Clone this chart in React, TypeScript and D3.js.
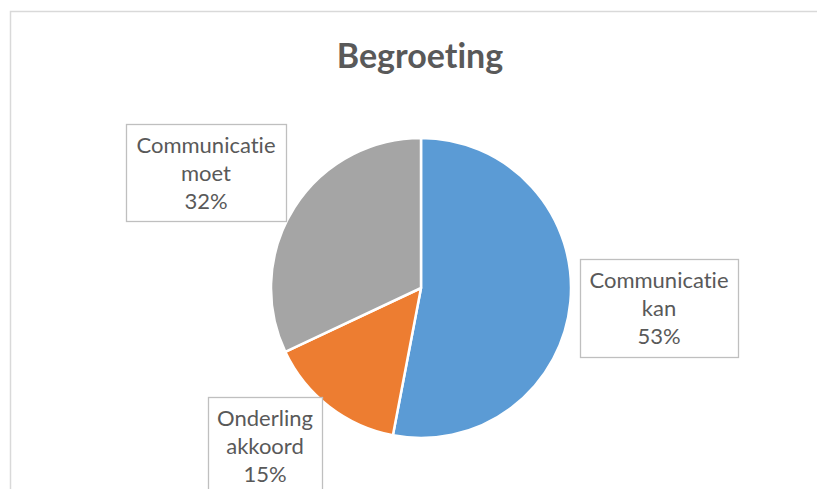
import React, { useRef, useEffect } from 'react';
import * as d3 from 'd3';

const categories = ['Communicatie kan', 'Onderling akkoord', 'Communicatie moet'];
const values = [53, 15, 32];
const labelLines = [
    ['Communicatie', 'kan', '53%'],
    ['Onderling', 'akkoord', '15%'],
    ['Communicatie', 'moet', '32%'],
];
const colors = ['#5B9BD5', '#ED7D31', '#A5A5A5'];

// label box positions (top-left, size) as placed in the original
const boxes = [
    { x: 580, y: 259, w: 158, h: 98 },
    { x: 208, y: 397, w: 114, h: 98 },
    { x: 126, y: 124, w: 160, h: 97 },
];

const W = 817;
const H = 489;
const FONT = 'Lato, "Open Sans", sans-serif';

const App: React.FC = () => {
    const ref = useRef<SVGSVGElement>(null);

    useEffect(() => {
        if (!ref.current) return;
        const svg = d3.select(ref.current);
        svg.selectAll('*').remove();

        svg.append('rect')
            .attr('width', W).attr('height', H)
            .attr('fill', '#ffffff');

        // chart area border
        svg.append('rect')
            .attr('x', 10.5).attr('y', 11.5)
            .attr('width', 900).attr('height', 600)
            .attr('fill', 'none')
            .attr('stroke', '#D9D9D9')
            .attr('stroke-width', 1.5);

        svg.append('text')
            .attr('x', 420).attr('y', 68)
            .attr('text-anchor', 'middle')
            .attr('fill', '#595959')
            .style('font-family', FONT)
            .style('font-size', '34px')
            .style('font-weight', 'bold')
            .style('font-variant-ligatures', 'none')
            .text('Begroeting');

        const radius = 150;
        const pie = d3.pie<number>().value(d => d).sort(null);
        const arc = d3.arc<d3.PieArcDatum<number>>().innerRadius(0).outerRadius(radius);

        const g = svg.append('g').attr('transform', 'translate(421, 288)');
        g.selectAll('path')
            .data(pie(values))
            .join('path')
            .attr('d', arc)
            .attr('fill', (_, i) => colors[i])
            .attr('stroke', '#ffffff')
            .attr('stroke-width', 2.5)
            .attr('stroke-linejoin', 'round');

        // data labels
        const lg = svg.selectAll('g.lbl')
            .data(categories)
            .join('g')
            .attr('class', 'lbl');

        lg.append('rect')
            .attr('x', (_, i) => boxes[i].x + 0.5)
            .attr('y', (_, i) => boxes[i].y + 0.5)
            .attr('width', (_, i) => boxes[i].w)
            .attr('height', (_, i) => boxes[i].h)
            .attr('fill', '#ffffff')
            .attr('stroke', '#BFBFBF')
            .attr('stroke-width', 1.3);

        lg.each(function (_, i) {
            const b = boxes[i];
            d3.select(this).selectAll('text')
                .data(labelLines[i])
                .join('text')
                .attr('x', b.x + b.w / 2)
                .attr('y', (_, j) => b.y + 29 + j * 28)
                .attr('text-anchor', 'middle')
                .attr('fill', '#595959')
                .style('font-family', FONT)
                .style('font-size', '22px')
                .style('font-variant-ligatures', 'none')
                .text(d => d);
        });
    }, []);

    return (
        <svg ref={ref} width={W} height={H} style={{ position: 'absolute', left: 0, top: 0 }}></svg>
    );
};

export default App;
